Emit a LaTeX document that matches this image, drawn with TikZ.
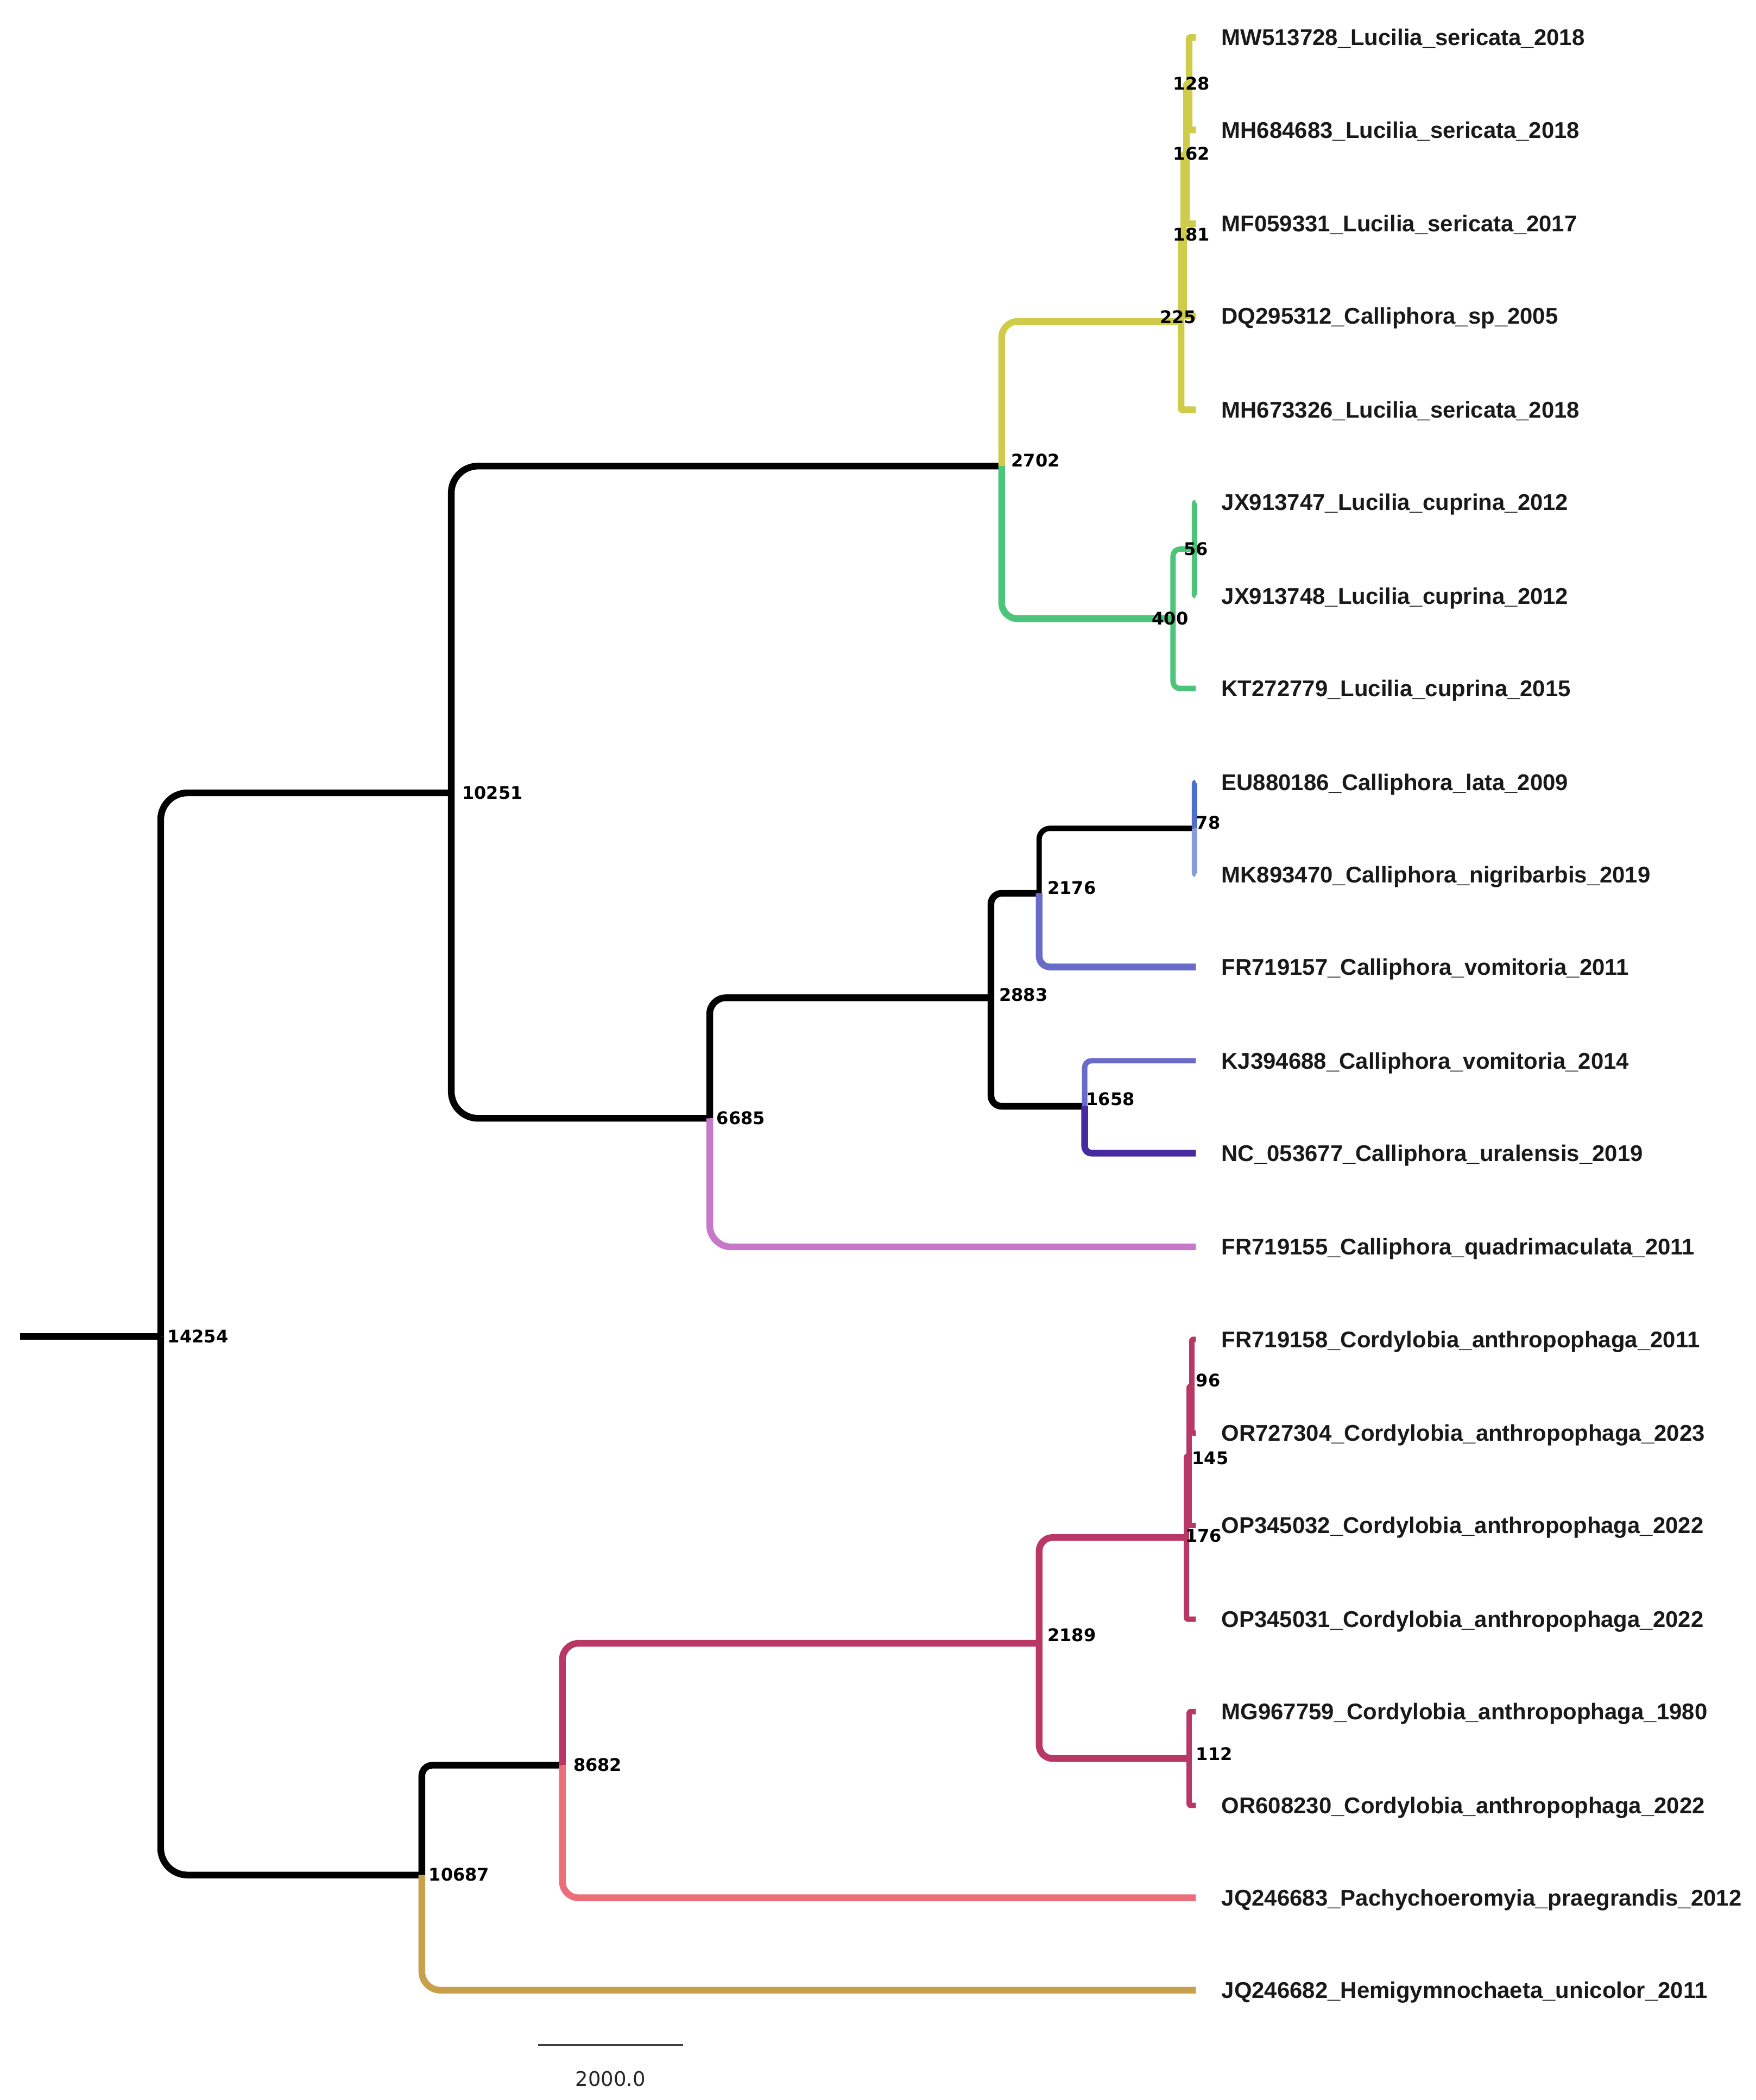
\documentclass[tikz,border=0pt]{standalone}
\usepackage{fontspec}
\setmainfont{Liberation Sans}
\newfontfamily\numfont{DejaVu Sans}
\definecolor{yel}{RGB}{206,204,74}
\definecolor{grn}{RGB}{76,196,122}
\definecolor{blu}{RGB}{80,110,205}
\definecolor{lblu}{RGB}{135,155,218}
\definecolor{vio}{RGB}{106,106,200}
\definecolor{dvio}{RGB}{72,42,160}
\definecolor{pnk}{RGB}{200,120,200}
\definecolor{crim}{RGB}{184,55,100}
\definecolor{salm}{RGB}{236,110,120}
\definecolor{gld}{RGB}{200,160,75}
\begin{document}
\begin{tikzpicture}[x=1pt,y=-1pt,line join=round,
  br/.style={line width=5pt},
  thin/.style={line width=4pt},
  leaf/.style={anchor=west,inner sep=0pt,xshift=19pt,text height=12pt,text depth=0pt,
    text=black!90,font=\fontsize{17}{17}\selectfont\bfseries},
  num/.style={anchor=west,inner sep=0pt,text height=9pt,text depth=0pt,
    font=\numfont\fontsize{13}{13}\selectfont\bfseries}]
  \useasboundingbox (0,0) rectangle (1311,1568);
%%
  % Node: internal nodes
  \coordinate (root) at (15,998);
  \coordinate (n14254) at (120,998);
  \coordinate (n10251) at (337,592);
  \coordinate (n2702) at (748,348);
  \coordinate (n225) at (882,240);
  \coordinate (n181) at (884,175.5);
  \coordinate (n162) at (886,115);
  \coordinate (n128) at (888,62.5);
  \coordinate (n400) at (876,462);
  \coordinate (n56) at (892,410);
  \coordinate (n6685) at (530,835);
  \coordinate (n2883) at (740,745);
  \coordinate (n2176) at (776,667);
  \coordinate (n78) at (892,618.5);
  \coordinate (n1658) at (810,826);
  \coordinate (n10687) at (315,1400);
  \coordinate (n8682) at (420,1318);
  \coordinate (n2189) at (776,1227);
  \coordinate (n176) at (886,1148);
  \coordinate (n145) at (888,1087);
  \coordinate (n96) at (890,1035);
  \coordinate (n112) at (888,1313);
  % Node: leaf tips
  \coordinate (t01) at (893,28);
  \coordinate (t02) at (893,97);
  \coordinate (t03) at (893,167);
  \coordinate (t04) at (893,236);
  \coordinate (t05) at (893,306);
  \coordinate (t06) at (893,375);
  \coordinate (t07) at (893,445);
  \coordinate (t08) at (893,514);
  \coordinate (t09) at (893,584);
  \coordinate (t10) at (893,653);
  \coordinate (t11) at (893,722);
  \coordinate (t12) at (893,792);
  \coordinate (t13) at (893,861);
  \coordinate (t14) at (893,931);
  \coordinate (t15) at (893,1000);
  \coordinate (t16) at (893,1070);
  \coordinate (t17) at (893,1139);
  \coordinate (t18) at (893,1209);
  \coordinate (t19) at (893,1278);
  \coordinate (t20) at (893,1348);
  \coordinate (t21) at (893,1417);
  \coordinate (t22) at (893,1486);
%%
  % Edge: root -> 14254
  \draw [br] (root) -- (n14254);
  % Edge: 14254 -> 10251, 10687
  \draw [br,rounded corners=20pt] (n14254) |- (n10251);
  \draw [br,rounded corners=20pt] (n14254) |- (n10687);
  % Edge: 10251 -> 2702, 6685
  \draw [br,rounded corners=20pt] (n10251) |- (n2702);
  \draw [br,rounded corners=20pt] (n10251) |- (n6685);
  % Edge: 2702 -> 225 (yellow clade)
  \draw [br,yel,rounded corners=12pt] (n2702) |- (n225);
  \draw [br,yel,rounded corners=1pt] (n225) |- (n181);
  \draw [br,yel,rounded corners=1pt] (n225) |- (t05);
  \draw [br,yel,rounded corners=1pt] (n181) |- (n162);
  \draw [br,yel,rounded corners=1pt] (n181) |- (t04);
  \draw [br,yel,rounded corners=1pt] (n162) |- (n128);
  \draw [br,yel,rounded corners=1pt] (n162) |- (t03);
  \draw [br,yel,rounded corners=1pt] (n128) |- (t01);
  \draw [br,yel,rounded corners=1pt] (n128) |- (t02);
  % Edge: 2702 -> 400 (green clade)
  \draw [br,grn,rounded corners=12pt] (n2702) |- (n400);
  \draw [thin,grn,rounded corners=5pt] (n400) |- (n56);
  \draw [thin,grn,rounded corners=5pt] (n400) |- (t08);
  \draw [thin,grn,rounded corners=1pt] (n56) |- (t06);
  \draw [thin,grn,rounded corners=1pt] (n56) |- (t07);
  % Edge: 6685 -> 2883, FR719155
  \draw [br,rounded corners=12pt] (n6685) |- (n2883);
  \draw [br,pnk,rounded corners=16pt] (n6685) |- (t14);
  % Edge: 2883 -> 2176, 1658
  \draw [br,rounded corners=8pt] (n2883) |- (n2176);
  \draw [br,rounded corners=8pt] (n2883) |- (n1658);
  % Edge: 2176 -> 78, FR719157
  \draw [thin,rounded corners=8pt] (n2176) |- (n78);
  \draw [br,vio,rounded corners=8pt] (n2176) |- (t11);
  \draw [thin,blu,rounded corners=1pt] (n78) |- (t09);
  \draw [thin,lblu,rounded corners=1pt] (n78) |- (t10);
  % Edge: 1658 -> KJ394688, NC_053677
  \draw [thin,vio,rounded corners=5pt] (n1658) |- (t12);
  \draw [br,dvio,rounded corners=5pt] (n1658) |- (t13);
  % Edge: 10687 -> 8682, JQ246682
  \draw [br,rounded corners=8pt] (n10687) |- (n8682);
  \draw [br,gld,rounded corners=14pt] (n10687) |- (t22);
  % Edge: 8682 -> 2189, JQ246683
  \draw [br,crim,rounded corners=12pt] (n8682) |- (n2189);
  \draw [br,salm,rounded corners=12pt] (n8682) |- (t21);
  % Edge: 2189 -> 176, 112 (Cordylobia)
  \draw [br,crim,rounded corners=10pt] (n2189) |- (n176);
  \draw [br,crim,rounded corners=10pt] (n2189) |- (n112);
  \draw [thin,crim,rounded corners=1pt] (n176) |- (n145);
  \draw [thin,crim,rounded corners=1pt] (n176) |- (t18);
  \draw [thin,crim,rounded corners=1pt] (n145) |- (n96);
  \draw [thin,crim,rounded corners=1pt] (n145) |- (t17);
  \draw [thin,crim,rounded corners=1pt] (n96) |- (t15);
  \draw [thin,crim,rounded corners=1pt] (n96) |- (t16);
  \draw [thin,crim,rounded corners=1pt] (n112) |- (t19);
  \draw [thin,crim,rounded corners=1pt] (n112) |- (t20);
%%
  % Node: internal labels
  \node [num,xshift=5pt] (l14254) at (n14254) {14254};
  \node [num,xshift=8pt] (l10251) at (n10251) {10251};
  \node [num,xshift=7pt,yshift=4pt] (l2702) at (n2702) {2702};
  \node [num,xshift=-16pt,yshift=3pt] (l225) at (n225) {225};
  \node [num,xshift=-8pt] (l181) at (n181) {181};
  \node [num,xshift=-10pt] (l162) at (n162) {162};
  \node [num,xshift=-12pt] (l128) at (n128) {128};
  \node [num,xshift=-16pt] (l400) at (n400) {400};
  \node [num,xshift=-8pt] (l56) at (n56) {56};
  \node [num,xshift=1pt,yshift=4pt] (l78) at (n78) {78};
  \node [num,xshift=6pt,yshift=4pt] (l2176) at (n2176) {2176};
  \node [num,xshift=6pt,yshift=2pt] (l2883) at (n2883) {2883};
  \node [num,xshift=1pt,yshift=5pt] (l1658) at (n1658) {1658};
  \node [num,xshift=5pt] (l6685) at (n6685) {6685};
  \node [num,xshift=5pt] (l10687) at (n10687) {10687};
  \node [num,xshift=8pt] (l8682) at (n8682) {8682};
  \node [num,xshift=6pt,yshift=6pt] (l2189) at (n2189) {2189};
  \node [num,xshift=-1pt,yshift=1pt] (l176) at (n176) {176};
  \node [num,xshift=2pt,yshift=-2pt] (l145) at (n145) {145};
  \node [num,xshift=3pt,yshift=4pt] (l96) at (n96) {96};
  \node [num,xshift=5pt,yshift=3pt] (l112) at (n112) {112};
  % Node: leaf labels
  \node [leaf] (lab01) at (t01) {MW513728\_Lucilia\_sericata\_2018};
  \node [leaf] (lab02) at (t02) {MH684683\_Lucilia\_sericata\_2018};
  \node [leaf] (lab03) at (t03) {MF059331\_Lucilia\_sericata\_2017};
  \node [leaf] (lab04) at (t04) {DQ295312\_Calliphora\_sp\_2005};
  \node [leaf] (lab05) at (t05) {MH673326\_Lucilia\_sericata\_2018};
  \node [leaf] (lab06) at (t06) {JX913747\_Lucilia\_cuprina\_2012};
  \node [leaf] (lab07) at (t07) {JX913748\_Lucilia\_cuprina\_2012};
  \node [leaf] (lab08) at (t08) {KT272779\_Lucilia\_cuprina\_2015};
  \node [leaf] (lab09) at (t09) {EU880186\_Calliphora\_lata\_2009};
  \node [leaf] (lab10) at (t10) {MK893470\_Calliphora\_nigribarbis\_2019};
  \node [leaf] (lab11) at (t11) {FR719157\_Calliphora\_vomitoria\_2011};
  \node [leaf] (lab12) at (t12) {KJ394688\_Calliphora\_vomitoria\_2014};
  \node [leaf] (lab13) at (t13) {NC\_053677\_Calliphora\_uralensis\_2019};
  \node [leaf] (lab14) at (t14) {FR719155\_Calliphora\_quadrimaculata\_2011};
  \node [leaf] (lab15) at (t15) {FR719158\_Cordylobia\_anthropophaga\_2011};
  \node [leaf] (lab16) at (t16) {OR727304\_Cordylobia\_anthropophaga\_2023};
  \node [leaf] (lab17) at (t17) {OP345032\_Cordylobia\_anthropophaga\_2022};
  \node [leaf] (lab18) at (t18) {OP345031\_Cordylobia\_anthropophaga\_2022};
  \node [leaf] (lab19) at (t19) {MG967759\_Cordylobia\_anthropophaga\_1980};
  \node [leaf] (lab20) at (t20) {OR608230\_Cordylobia\_anthropophaga\_2022};
  \node [leaf] (lab21) at (t21) {JQ246683\_Pachychoeromyia\_praegrandis\_2012};
  \node [leaf] (lab22) at (t22) {JQ246682\_Hemigymnochaeta\_unicolor\_2011};
%%
  % Scale bar
  \coordinate (sb1) at (402,1527);
  \coordinate (sb2) at (510,1527);
  \draw [line width=1.8pt,black!75] (sb1) -- (sb2);
  \node [font=\numfont\fontsize{15}{15}\selectfont,text=black!85,inner sep=0pt] (sblab) at (456,1552) {2000.0};
\end{tikzpicture}
\end{document}
